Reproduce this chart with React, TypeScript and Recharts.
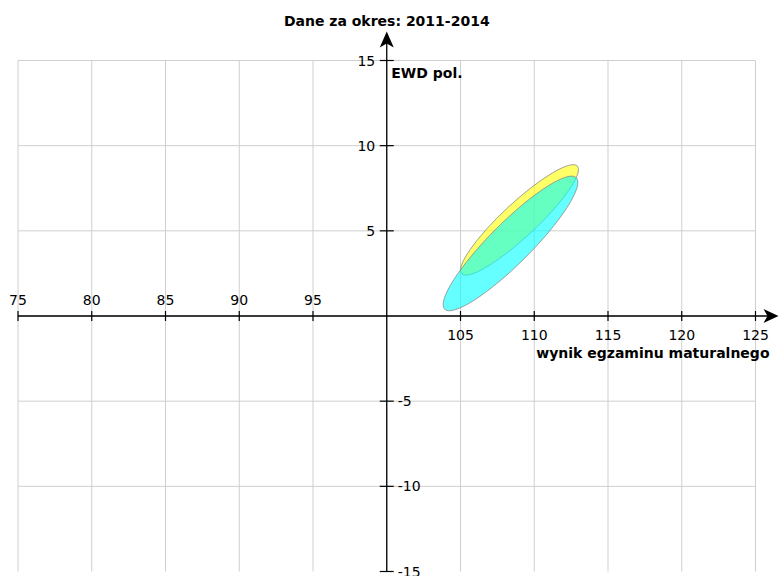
import React from 'react';
import { ScatterChart, Scatter, XAxis, YAxis, CartesianGrid, ReferenceLine } from 'recharts';

const title = 'Dane za okres: 2011-2014';
const xName = 'wynik egzaminu maturalnego';
const yName = 'EWD pol.';

const xDomain = [75, 125];
const yDomain = [-15, 15];
const xGrid = [75, 80, 85, 90, 95, 100, 105, 110, 115, 120, 125];
const yGrid = [-15, -10, -5, 0, 5, 10, 15];
const xTickValues = [75, 80, 85, 90, 95, 105, 110, 115, 120, 125];
const yTickValues = [15, 10, 5, -5, -10, -15];
const origin = { x: 100, y: 0 };

// each ellipse: center, end of one semi-axis, end of the conjugate semi-axis
const yellowEllipse = [
  { x: 109.0, y: 5.64 },
  { x: 112.92, y: 8.8 },
  { x: 109.79, y: 4.91 },
];
const cyanEllipse = [
  { x: 108.39, y: 4.26 },
  { x: 112.85, y: 8.12 },
  { x: 109.37, y: 3.41 },
];

const xTickData = xTickValues.map(v => ({ x: v, y: origin.y }));
const yTickData = yTickValues.map(v => ({ x: origin.x, y: v }));

const FONT = '"DejaVu Sans", sans-serif';

const Hidden = () => <g />;

// affine image of the unit circle through the three scaled points
const makeEllipse = (fill: string) => (props: any) => {
  const pts = props.points;
  if (!pts || pts.length < 3) return <g />;
  const [c, a, b] = pts;
  const m = `matrix(${a.x - c.x} ${a.y - c.y} ${b.x - c.x} ${b.y - c.y} ${c.x} ${c.y})`;
  return (
    <circle
      cx={0}
      cy={0}
      r={1}
      transform={m}
      fill={fill}
      fillOpacity={0.6}
      stroke="#8a8a8a"
      strokeWidth={0.8}
      vectorEffect="non-scaling-stroke"
    />
  );
};

const XTick = (props: any) => {
  const { cx, cy } = props;
  const v = props.payload?.x ?? props.node?.x;
  const below = v > origin.x;
  return (
    <g>
      <line x1={cx} y1={cy - 5} x2={cx} y2={cy + 5} stroke="#000" strokeWidth={1.2} />
      <text x={cx} y={below ? cy + 23.5 : cy - 11.5} textAnchor="middle" fontSize={14} fontFamily={FONT} fill="#000">
        {v}
      </text>
    </g>
  );
};

const YTick = (props: any) => {
  const { cx, cy } = props;
  const v = props.payload?.y ?? props.node?.y;
  const left = v > origin.y;
  return (
    <g>
      <line x1={cx - 7} y1={cy} x2={cx + 7} y2={cy} stroke="#000" strokeWidth={1.2} />
      <text
        x={left ? cx - 11.5 : cx + 11}
        y={cy}
        dy="0.36em"
        textAnchor={left ? 'end' : 'start'}
        fontSize={14}
        fontFamily={FONT}
        fill="#000"
      >
        {v}
      </text>
    </g>
  );
};

const XAxisLine = (props: any) => {
  const { x1, x2, y1 } = props;
  const left = Math.min(x1, x2);
  const right = Math.max(x1, x2);
  const tip = right + 23;
  return (
    <g>
      <line x1={left} y1={y1} x2={tip - 8} y2={y1} stroke="#000" strokeWidth={1.3} />
      <path d={`M${tip},${y1} L${tip - 15},${y1 - 7} L${tip - 11},${y1} L${tip - 15},${y1 + 7} Z`} fill="#000" />
      <text x={right + 14} y={y1 + 42} textAnchor="end" fontSize={14} fontWeight="bold" fontFamily={FONT} fill="#000">
        {xName}
      </text>
    </g>
  );
};

const YAxisLine = (props: any) => {
  const { x1, y1, y2 } = props;
  const top = Math.min(y1, y2);
  const bottom = Math.max(y1, y2);
  const tip = top - 29;
  return (
    <g>
      <line x1={x1} y1={bottom} x2={x1} y2={tip + 8} stroke="#000" strokeWidth={1.3} />
      <path d={`M${x1},${tip} L${x1 - 7},${tip + 16} L${x1},${tip + 12} L${x1 + 7},${tip + 16} Z`} fill="#000" />
      <text x={x1 + 4.5} y={top + 17.5} fontSize={14} fontWeight="bold" fontFamily={FONT} fill="#000">
        {yName}
      </text>
      <text x={x1} y={top - 34.5} textAnchor="middle" fontSize={14} fontWeight="bold" fontFamily={FONT} fill="#000">
        {title}
      </text>
    </g>
  );
};

export default function App() {
  return (
    <div style={{ position: 'absolute', left: 0, top: 0, width: 779, height: 576, background: '#fff', fontFamily: FONT }}>
      <ScatterChart width={779} height={576} margin={{ top: 60.5, right: 23.5, bottom: 4.5, left: 18 }}>
        <CartesianGrid stroke="#cfcfcf" horizontalValues={yGrid} verticalValues={xGrid} />
        <XAxis type="number" dataKey="x" domain={xDomain} ticks={xGrid} hide />
        <YAxis type="number" dataKey="y" domain={yDomain} ticks={yGrid} hide />
        <Scatter
          data={yellowEllipse}
          isAnimationActive={false}
          shape={Hidden}
          line={makeEllipse('#ffff00')}
          lineType="joint"
        />
        <Scatter
          data={cyanEllipse}
          isAnimationActive={false}
          shape={Hidden}
          line={makeEllipse('#00ffff')}
          lineType="joint"
        />
        <ReferenceLine y={origin.y} shape={XAxisLine} />
        <ReferenceLine x={origin.x} shape={YAxisLine} />
        <Scatter data={xTickData} isAnimationActive={false} shape={XTick} />
        <Scatter data={yTickData} isAnimationActive={false} shape={YTick} />
      </ScatterChart>
    </div>
  );
}
